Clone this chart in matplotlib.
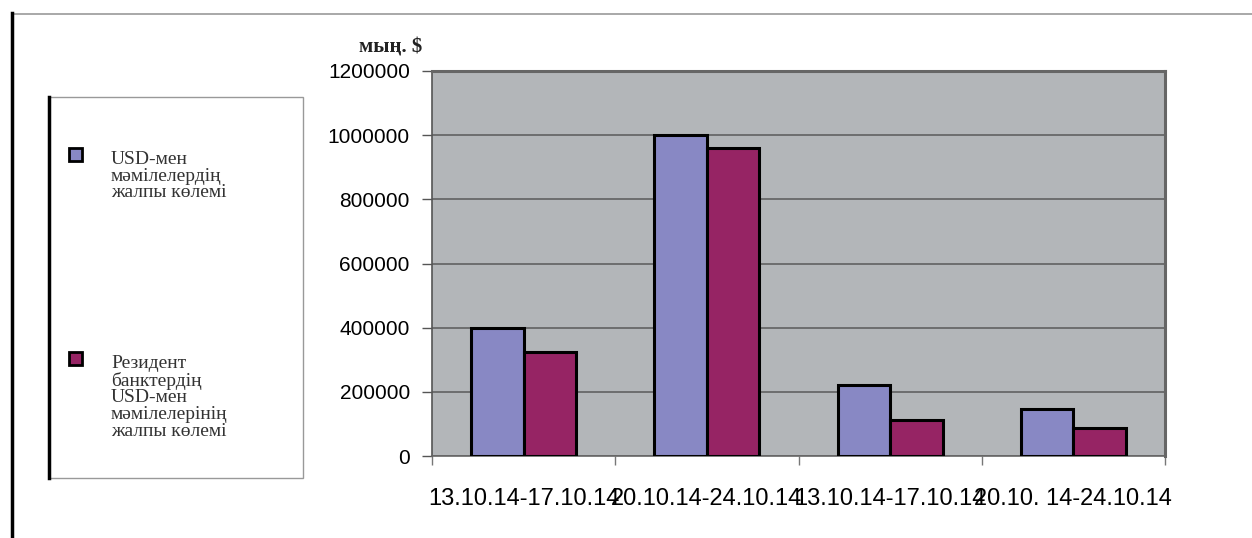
import matplotlib.pyplot as plt
from matplotlib.patches import Rectangle
from matplotlib.lines import Line2D
import numpy as np

periods = ['13.10.14-17.10.14', '20.10.14-24.10.14', '13.10.14-17.10.14', '20.10. 14-24.10.14']
usd_total = [400000, 1002000, 221000, 147000]
resident_total = [324000, 961000, 113000, 88000]
series_names = ['USD-мен\nмәмілелердің\nжалпы көлемі',
                'Резидент\nбанктердің\nUSD-мен\nмәмілелерінің\nжалпы көлемі']
yticks = [0, 200000, 400000, 600000, 800000, 1000000, 1200000]

blue = '#8888c4'
red = '#962464'

fig = plt.figure(figsize=(12.52, 5.38), dpi=100)
W, H = 1252, 538

def fx(px):
    return px / W

def fy(py):
    return 1 - py / H

ax = fig.add_axes([fx(432), fy(456), fx(1165) - fx(432), fy(71) - fy(456)])
ax.set_facecolor('#b3b6b9')

x = np.arange(len(periods))
w = 0.286
ax.bar(x - w / 2, usd_total, w, color=blue, edgecolor='black', linewidth=2.2, zorder=3)
ax.bar(x + w / 2, resident_total, w, color=red, edgecolor='black', linewidth=2.2, zorder=3)

ax.set_xlim(-0.5, len(periods) - 0.5)
ax.set_ylim(0, 1200000)
ax.set_yticks(yticks)
ax.set_yticklabels([str(v) for v in yticks], fontsize=15, family='Liberation Sans')
ax.yaxis.grid(True, color='#5a5a5a', linewidth=1.1, zorder=1)
ax.tick_params(axis='y', length=7, width=1, color='#555555', pad=9)

ax.set_xticks(x)
ax.set_xticklabels(periods, fontsize=17, family='Liberation Sans')
ax.set_xticks(np.arange(len(periods) + 1) - 0.5, minor=True)
ax.tick_params(axis='x', which='major', length=0, pad=23)
ax.tick_params(axis='x', which='minor', length=6.5, width=1, color='#777777')

for s in ['top', 'right']:
    ax.spines[s].set_color('#666666')
    ax.spines[s].set_linewidth(2.2)
ax.spines['left'].set_color('#555555')
ax.spines['bottom'].set_color('#666666')
ax.spines['left'].set_linewidth(1.2)
ax.spines['bottom'].set_linewidth(1.2)

fig.text(fx(391), fy(48), 'мың. $', fontsize=15, fontweight='bold',
         family='Liberation Serif', color='#222222', ha='center', va='center')

# outer frame
fig.add_artist(Line2D([fx(12), 1], [fy(13.5), fy(13.5)], color='#999999', lw=1.2))
fig.add_artist(Line2D([fx(12), fx(12)], [fy(13), 0], color='black', lw=2.5))

# legend box
fig.add_artist(Rectangle((fx(49), fy(478)), fx(303) - fx(49), fy(97) - fy(478),
                         facecolor='white', edgecolor='#999999', lw=1.0))
fig.add_artist(Line2D([fx(49), fx(49)], [fy(97), fy(478)], color='black', lw=2.5))

for name, color, top in [(series_names[0], blue, 148), (series_names[1], red, 352)]:
    fig.add_artist(Rectangle((fx(69), fy(top + 13)), fx(13), fy(0) - fy(13),
                             facecolor=color, edgecolor='black', lw=2.0))
    fig.text(fx(111), fy(top + 3), name, fontsize=14, family='Liberation Serif',
             color='#333333', ha='left', va='top', linespacing=0.98)

plt.savefig('out.png', dpi=100)
